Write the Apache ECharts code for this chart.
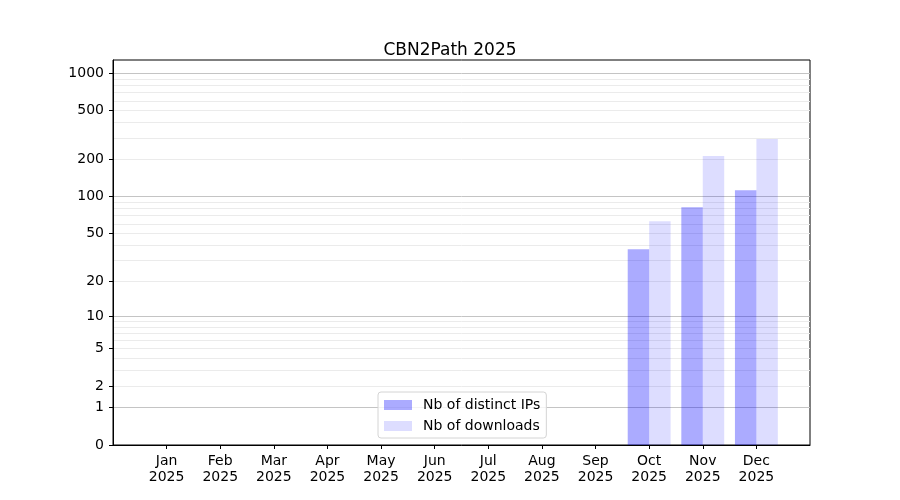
<!DOCTYPE html>
<html>
<head>
<meta charset="utf-8">
<script src="https://cdn.jsdelivr.net/npm/echarts@6/dist/echarts.min.js"></script>
<style>
  html, body { margin: 0; padding: 0; background: #fff; }
  #chart { width: 900px; height: 500px; }
</style>
</head>
<body>
<div id="chart"></div>
<script>
// data
var months = ['Jan', 'Feb', 'Mar', 'Apr', 'May', 'Jun', 'Jul', 'Aug', 'Sep', 'Oct', 'Nov', 'Dec'];
var year = '2025';
var distinctIPs = [0, 0, 0, 0, 0, 0, 0, 0, 0, 37, 82, 113];
var downloads = [0, 0, 0, 0, 0, 0, 0, 0, 0, 63, 214, 294];
var yTicks = [0, 1, 2, 5, 10, 20, 50, 100, 200, 500, 1000];
var majorGrid = [1, 10, 100, 1000];
var minorGrid = [2, 3, 4, 5, 6, 7, 8, 9, 20, 30, 40, 50, 60, 70, 80, 90, 200, 300, 400, 500, 600, 700, 800, 900];
var yTop = 1281;

// y axis is log10(1 + v)
function tf(v) { return Math.log10(1 + v); }
function inv(t) { return Math.round(Math.pow(10, t) - 1); }

// pad one empty slot each side so months sit one step in from the frame
var cats = [''].concat(months).concat(['']);
function pad(arr) { return [null].concat(arr.map(function (v) { return v > 0 ? tf(v) : null; })).concat([null]); }

// extra y axes only carry grid lines
function gridAxis(vals, color) {
  return {
    type: 'value',
    min: 0,
    max: tf(yTop),
    axisLine: { show: false },
    axisTick: { show: false, customValues: vals.map(tf) },
    axisLabel: { show: false, customValues: vals.map(tf) },
    splitLine: { show: true, lineStyle: { color: color, width: 1 } }
  };
}

var font = 'DejaVu Sans';
var chart = echarts.init(document.getElementById('chart'), null, { renderer: 'canvas' });

chart.setOption({
  backgroundColor: '#ffffff',
  animation: false,
  title: {
    text: 'CBN2Path ' + year,
    left: 'center',
    top: 37,
    textStyle: { fontFamily: font, fontSize: 17, fontWeight: 'normal', color: '#000' }
  },
  grid: {
    left: 113, right: 90, top: 60, bottom: 55,
    show: true, borderColor: '#000', borderWidth: 1, containLabel: false
  },
  legend: {
    data: ['Nb of distinct IPs', 'Nb of downloads'],
    orient: 'vertical',
    left: 378,
    top: 392,
    padding: [6, 6, 5, 6],
    itemGap: 7,
    itemWidth: 28,
    itemHeight: 10,
    icon: 'rect',
    borderColor: '#d4d4d4',
    borderWidth: 1,
    borderRadius: 3,
    backgroundColor: 'rgba(255,255,255,0.8)',
    textStyle: { fontFamily: font, fontSize: 14, color: '#000', padding: [0, 0, 0, 6] }
  },
  xAxis: {
    type: 'category',
    data: cats,
    boundaryGap: false,
    axisLine: { show: true, lineStyle: { color: '#000' } },
    axisTick: {
      show: true, length: 4, lineStyle: { color: '#000' },
      interval: function (i, v) { return v !== ''; }
    },
    axisLabel: {
      interval: 0,
      margin: 8,
      lineHeight: 16,
      fontFamily: font, fontSize: 14, color: '#000',
      formatter: function (v) { return v === '' ? '' : v + '\n' + year; }
    },
    splitLine: { show: false }
  },
  yAxis: [
    {
      type: 'value',
      min: 0,
      max: tf(yTop),
      z: 5,
      axisLine: { show: true, lineStyle: { color: '#000' } },
      axisTick: {
        show: true, length: 4, lineStyle: { color: '#000' },
        customValues: yTicks.map(tf)
      },
      axisLabel: {
        margin: 9,
        padding: [2, 0, 0, 0],
        fontFamily: font, fontSize: 14, color: '#000',
        customValues: yTicks.map(tf),
        formatter: function (t) { return String(inv(t)); }
      },
      splitLine: { show: false }
    },
    gridAxis(minorGrid, '#ebebeb'),
    gridAxis(majorGrid, '#c4c4c4')
  ],
  series: [
    {
      name: 'Nb of distinct IPs',
      type: 'bar',
      data: pad(distinctIPs),
      barWidth: '40%',
      barGap: '0%',
      itemStyle: { color: 'rgba(0,0,255,0.33)' }
    },
    {
      name: 'Nb of downloads',
      type: 'bar',
      data: pad(downloads),
      barWidth: '40%',
      barGap: '0%',
      itemStyle: { color: 'rgba(0,0,255,0.135)' }
    }
  ]
});
</script>
</body>
</html>
